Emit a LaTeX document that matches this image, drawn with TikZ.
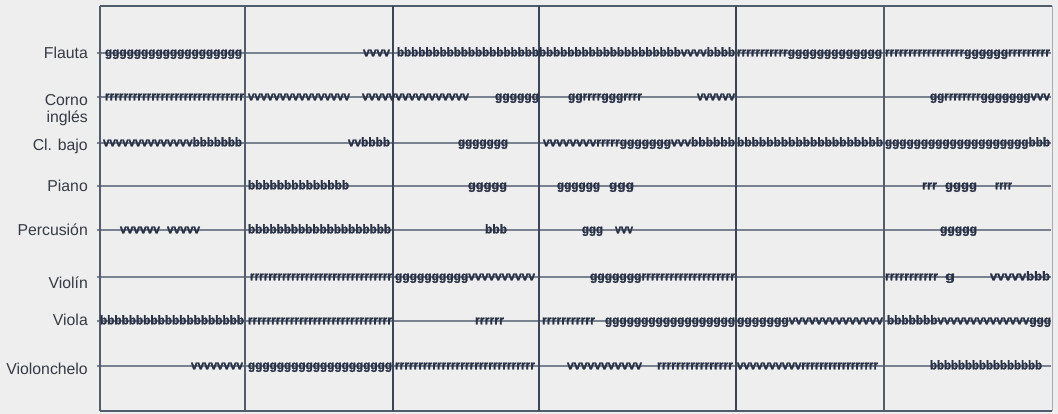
\documentclass[tikz,border=0pt]{standalone}
\usepackage{fontspec}
\setmainfont{Liberation Sans}
\newfontfamily\segfont[FakeBold=1.5]{Liberation Sans}
\usepackage{graphicx}
\ExplSyntaxOn
\NewDocumentCommand\rp{mm}{\prg_replicate:nn{#1}{#2}}
\ExplSyntaxOff
\definecolor{bg}{HTML}{EEEEEE}
\definecolor{ink}{HTML}{283146}
\definecolor{rowc}{HTML}{7A8292}
\definecolor{gridc}{HTML}{515C6C}
\definecolor{gridd}{HTML}{3A4658}
\definecolor{lab}{HTML}{353A44}
\newcommand\segm[5]{%
  \pgfmathsetmacro\segw{#3-#2}%
  \pgfmathsetmacro\segx{(#2+#3)/2}%
  \node[segtxt] (#1) at (\segx,#4+3.3) {\resizebox{\segw pt}{\height}{#5}};}
\tikzset{
  segtxt/.style={inner sep=0pt, outer sep=0pt, anchor=base, text=ink,
    font=\fontsize{12.5}{12.5}\selectfont\segfont\bfseries},
  lbl/.style={inner sep=0pt, anchor=base east, text=lab,
    font=\fontsize{15.8}{18}\selectfont},
  rowline/.style={draw=rowc, line width=1.1pt},
  gridline/.style={draw=gridc, line width=1.5pt},
  gridthick/.style={draw=gridd, line width=2.2pt},
}
\begin{document}
\begin{tikzpicture}[x=1pt,y=-1pt]
\fill[bg] (0,0) rectangle (1058,414);
\useasboundingbox (0,0) rectangle (1058,414);
% frame coordinates
\coordinate (tl) at (100,6);   \coordinate (tr) at (1052,6);
\coordinate (bl) at (100,411); \coordinate (br) at (1052,411);
% row lines
\foreach \n/\y in {fl/53,co/97,cb/143,pi/186,pe/230,vn/277,va/321,vc/366}{
  \coordinate (\n-l) at (97,\y);
  \coordinate (\n-r) at (1051,\y);
  \draw[rowline] (\n-l) -- (\n-r);
}
% grid
\draw[gridline] (tl) -- (tr);
\draw[gridline] (bl) -- (br);
\draw[gridline] (tl) -- (bl);
\draw[draw=gridc!50, line width=1pt] (tr) -- (br);
\foreach \x/\s in {245/gridline,393/gridthick,539/gridthick,736/gridthick,884/gridline}{
  \coordinate (v\x-t) at (\x,6);
  \coordinate (v\x-b) at (\x,411);
  \draw[\s] (v\x-t) -- (v\x-b);
}
% labels
\node[lbl] (lfl) at (88,59) {Flauta};
\node[lbl] (lco) at (88,106) {Corno};
\node[lbl] (lci) at (88,123) {inglés};
\node[lbl] (lcb) at (88,151) {Cl. bajo};
\node[lbl] (lpi) at (88,192) {Piano};
\node[lbl] (lpe) at (88,236) {Percusión};
\node[lbl] (lvn) at (88,288) {Violín};
\node[lbl] (lva) at (88,325) {Viola};
\node[lbl] (lvc) at (88,374) {Violonchelo};
% Flauta
\segm{fl1}{105}{242}{53}{\rp{19}{g}}
\segm{fl2}{363}{390}{53}{vvvv}
\segm{fl3}{397}{735}{53}{\rp{40}{b}vvvvbbbb}
\segm{fl4}{737}{882}{53}{\rp{11}{r}\rp{13}{g}}
\segm{fl5}{885}{1050}{53}{\rp{17}{r}\rp{6}{g}\rp{9}{r}}
% Corno ingles
\segm{co1}{105}{244}{97}{\rp{30}{r}}
\segm{co2}{248}{350}{97}{\rp{16}{v}}
\segm{co3}{362}{469}{97}{\rp{16}{v}}
\segm{co4}{495}{539}{97}{gggggg}
\segm{co5}{568}{642}{97}{ggrrrrgggrrrr}
\segm{co6}{697}{735}{97}{vvvvvv}
\segm{co7}{930}{1050}{97}{gg\rp{8}{r}\rp{7}{g}vvv}
% Cl. bajo
\segm{cb1}{103}{242}{143}{\rp{14}{v}\rp{7}{b}}
\segm{cb2}{348}{390}{143}{vvbbbb}
\segm{cb3}{458}{508}{143}{ggggggg}
\segm{cb4}{543}{735}{143}{\rp{8}{v}\rp{5}{r}\rp{7}{g}vvv\rp{6}{b}}
\segm{cb5}{737}{883}{143}{\rp{20}{b}}
\segm{cb6}{885}{1050}{143}{\rp{20}{g}bbb}
% Piano
\segm{pi1}{248}{349}{186}{\rp{14}{b}}
\segm{pi2}{468}{507}{186}{ggggg}
\segm{pi3}{557}{600}{186}{gggggg}
\segm{pi4}{609}{634}{186}{ggg}
\segm{pi5}{922}{937}{186}{rrr}
\segm{pi6}{945}{977}{186}{gggg}
\segm{pi7}{995}{1012}{186}{rrrr}
% Percusion
\segm{pe1}{120}{160}{230}{\rp{6}{v}}
\segm{pe2}{167}{200}{230}{vvvvv}
\segm{pe3}{248}{391}{230}{\rp{20}{b}}
\segm{pe4}{485}{507}{230}{bbb}
\segm{pe5}{582}{603}{230}{ggg}
\segm{pe6}{615}{633}{230}{vvv}
\segm{pe7}{940}{977}{230}{ggggg}
% Violin
\segm{vn1}{250}{392}{277}{\rp{31}{r}}
\segm{vn2}{395}{535}{277}{\rp{10}{g}\rp{10}{v}}
\segm{vn3}{590}{735}{277}{\rp{7}{g}\rp{20}{r}}
\segm{vn4}{885}{938}{277}{\rp{11}{r}}
\segm{vn5}{945}{955}{277}{g}
\segm{vn6}{990}{1050}{277}{\rp{5}{v}bbb}
% Viola
\segm{va1}{100}{244}{321}{\rp{20}{b}}
\segm{va2}{248}{392}{321}{\rp{31}{r}}
\segm{va3}{475}{504}{321}{\rp{6}{r}}
\segm{va4}{542}{595}{321}{\rp{11}{r}}
\segm{va5}{605}{735}{321}{\rp{18}{g}}
\segm{va6}{737}{883}{321}{\rp{7}{g}\rp{14}{v}}
\segm{va7}{887}{1051}{321}{\rp{7}{b}\rp{14}{v}ggg}
% Violonchelo
\segm{vc1}{191}{243}{366}{\rp{8}{v}}
\segm{vc2}{248}{392}{366}{\rp{20}{g}}
\segm{vc3}{395}{535}{366}{\rp{30}{r}}
\segm{vc4}{567}{642}{366}{\rp{11}{v}}
\segm{vc5}{657}{733}{366}{\rp{16}{r}}
\segm{vc6}{737}{878}{366}{\rp{10}{v}\rp{17}{r}}
\segm{vc7}{930}{1042}{366}{\rp{16}{b}}
\end{tikzpicture}
\end{document}
